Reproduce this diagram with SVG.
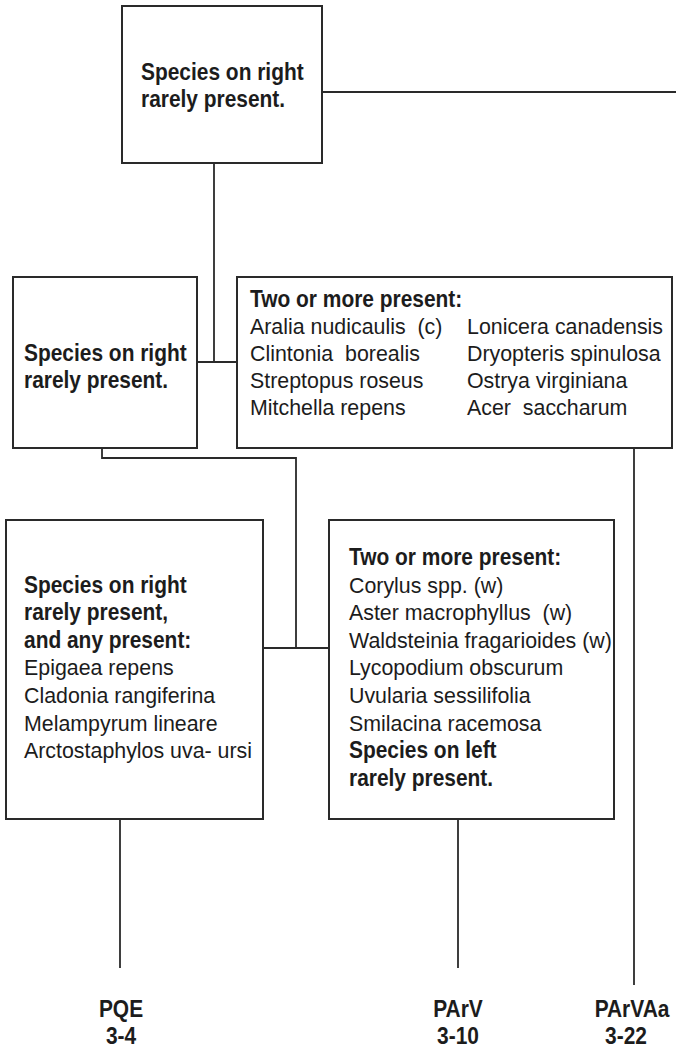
<svg xmlns="http://www.w3.org/2000/svg" width="676" height="1051" viewBox="0 0 676 1051">
  <style>
    .box { fill: #ffffff; stroke: #2a2a2a; stroke-width: 2; }
    .wire { fill: none; stroke: #2a2a2a; stroke-width: 1.8; }
    text { font-family: "Liberation Sans", Arial, sans-serif; font-size: 23px; fill: #1c1c1c; }
    .b { font-weight: bold; }
    .lbl { font-weight: bold; text-anchor: middle; }
  </style>
  <rect width="676" height="1051" fill="#ffffff"/>

  <!-- connectors -->
  <g id="connectors">
    <path class="wire" d="M322 92 H676"/>
    <path class="wire" d="M214 163 V362"/>
    <path class="wire" d="M197 362 H237"/>
    <path class="wire" d="M102 448 V458 H296 V648"/>
    <path class="wire" d="M263 648 H329"/>
    <path class="wire" d="M634 448 V985"/>
    <path class="wire" d="M120 819 V968"/>
    <path class="wire" d="M458 819 V968"/>
  </g>

  <!-- narrow type: regular lines use matrix(0.93 ...), bold lines matrix(0.91 ...) -->
  <g id="n-top">
    <rect class="box" x="122" y="6" width="200" height="157"/>
    <text class="b" transform="matrix(0.91 0 0 1 141 80)">Species on right</text>
    <text class="b" transform="matrix(0.91 0 0 1 141 107)">rarely present.</text>
  </g>

  <g id="n-mid-left">
    <rect class="box" x="13" y="277" width="184" height="171"/>
    <text class="b" transform="matrix(0.91 0 0 1 24 361)">Species on right</text>
    <text class="b" transform="matrix(0.91 0 0 1 24 388)">rarely present.</text>
  </g>

  <g id="n-mid-right">
    <rect class="box" x="237" y="277" width="435" height="171"/>
    <text class="b" transform="matrix(0.91 0 0 1 250 307)">Two or more present:</text>
    <text transform="matrix(0.93 0 0 1 250 334)" xml:space="preserve">Aralia nudicaulis  (c)</text>
    <text transform="matrix(0.93 0 0 1 250 361)" xml:space="preserve">Clintonia  borealis</text>
    <text transform="matrix(0.93 0 0 1 250 388)">Streptopus roseus</text>
    <text transform="matrix(0.93 0 0 1 250 415)">Mitchella repens</text>
    <text transform="matrix(0.93 0 0 1 467 334)">Lonicera canadensis</text>
    <text transform="matrix(0.93 0 0 1 467 361)">Dryopteris spinulosa</text>
    <text transform="matrix(0.93 0 0 1 467 388)">Ostrya virginiana</text>
    <text transform="matrix(0.93 0 0 1 467 415)" xml:space="preserve">Acer  saccharum</text>
  </g>

  <g id="n-low-left">
    <rect class="box" x="6" y="520" width="257" height="299"/>
    <text class="b" transform="matrix(0.91 0 0 1 24 593)">Species on right</text>
    <text class="b" transform="matrix(0.91 0 0 1 24 620)">rarely present,</text>
    <text class="b" transform="matrix(0.91 0 0 1 24 648)">and any present:</text>
    <text transform="matrix(0.93 0 0 1 24 675)">Epigaea repens</text>
    <text transform="matrix(0.93 0 0 1 24 703)">Cladonia rangiferina</text>
    <text transform="matrix(0.93 0 0 1 24 731)">Melampyrum lineare</text>
    <text transform="matrix(0.93 0 0 1 24 758)">Arctostaphylos uva- ursi</text>
  </g>

  <g id="n-low-right">
    <rect class="box" x="329" y="520" width="285" height="299"/>
    <text class="b" transform="matrix(0.91 0 0 1 349 565)">Two or more present:</text>
    <text transform="matrix(0.93 0 0 1 349 593)">Corylus spp. (w)</text>
    <text transform="matrix(0.93 0 0 1 349 620)" xml:space="preserve">Aster macrophyllus  (w)</text>
    <text transform="matrix(0.93 0 0 1 349 648)">Waldsteinia fragarioides (w)</text>
    <text transform="matrix(0.93 0 0 1 349 675)">Lycopodium obscurum</text>
    <text transform="matrix(0.93 0 0 1 349 703)">Uvularia sessilifolia</text>
    <text transform="matrix(0.93 0 0 1 349 731)">Smilacina racemosa</text>
    <text class="b" transform="matrix(0.91 0 0 1 349 758)">Species on left</text>
    <text class="b" transform="matrix(0.91 0 0 1 349 786)">rarely present.</text>
  </g>

  <!-- terminal types -->
  <g id="t-pqe">
    <text class="lbl" transform="matrix(0.91 0 0 1 121 1017)">PQE</text>
    <text class="lbl" transform="matrix(0.91 0 0 1 121 1044)">3-4</text>
  </g>
  <g id="t-parv">
    <text class="lbl" transform="matrix(0.91 0 0 1 458 1017)">PArV</text>
    <text class="lbl" transform="matrix(0.91 0 0 1 458 1044)">3-10</text>
  </g>
  <g id="t-parvaa">
    <text class="lbl" transform="matrix(0.91 0 0 1 632 1017)">PArVAa</text>
    <text class="lbl" transform="matrix(0.91 0 0 1 626 1044)">3-22</text>
  </g>
</svg>
